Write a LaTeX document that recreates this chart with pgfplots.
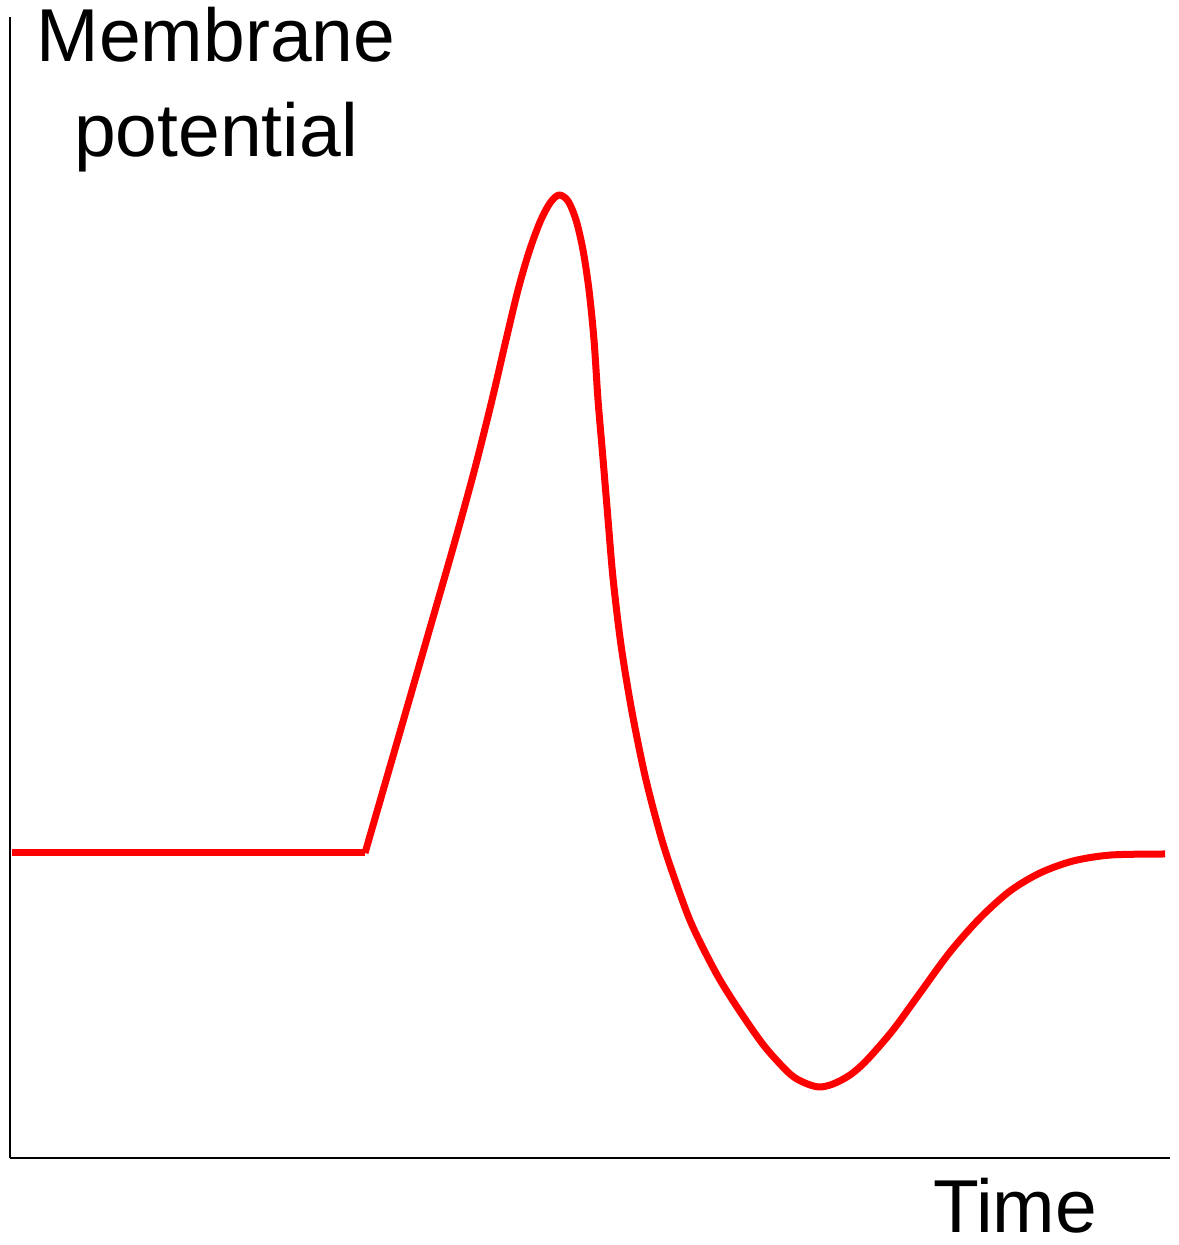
\documentclass[border=0pt]{standalone}
\usepackage{fontspec}
\setmainfont{Liberation Sans}
\usepackage{pgfplots}
\pgfplotsset{compat=1.18}
\begin{document}
\begin{tikzpicture}
\path[use as bounding box] (0pt,0pt) rectangle (589pt,622.5pt);
\begin{axis}[
  at={(5pt,43.5pt)}, anchor=south west,
  scale only axis,
  width=580pt, height=570.5pt,
  xmin=0, xmax=1160, ymin=0, ymax=1141,
  axis lines=left,
  axis line style={-, line width=1.3pt, black},
  ticks=none,
  clip=false,
]
\addplot[red, line width=3.5pt, line cap=butt] coordinates {(2,305) (355,305)};
\addplot[red, line width=3.5pt, smooth, tension=0.5, line join=round] coordinates {
(355,305) (390,426) (420,530) (445,617) (465,690) (482,758) (496,818) (508,868)
(519,906) (530,936) (540,955) (549,963) (558,957) (566,938) (573,908) (579,868)
(584,818) (588,758) (592,711) (597.5,645) (603,580) (611,513) (622,446) (636,378)
(654,311) (677,245) (692,212) (710,178) (731,145) (755,111) (780,84) (795,75)
(809,71) (823,74) (840,83) (857,98) (883,128) (910,165) (940,206) (970,240) (1000,267)
(1030,285) (1063,297) (1101,303) (1155,304)};
\end{axis}
\node[anchor=base, inner sep=0pt, font=\fontsize{37.5pt}{47.5pt}\selectfont] at (108pt,591.5pt) {Membrane};
\node[anchor=base, inner sep=0pt, font=\fontsize{37.5pt}{47.5pt}\selectfont] at (108pt,544pt) {potential};
\node[anchor=base, inner sep=0pt, font=\fontsize{37.5pt}{47.5pt}\selectfont] at (507.5pt,6pt) {Time};
\end{tikzpicture}
\end{document}
